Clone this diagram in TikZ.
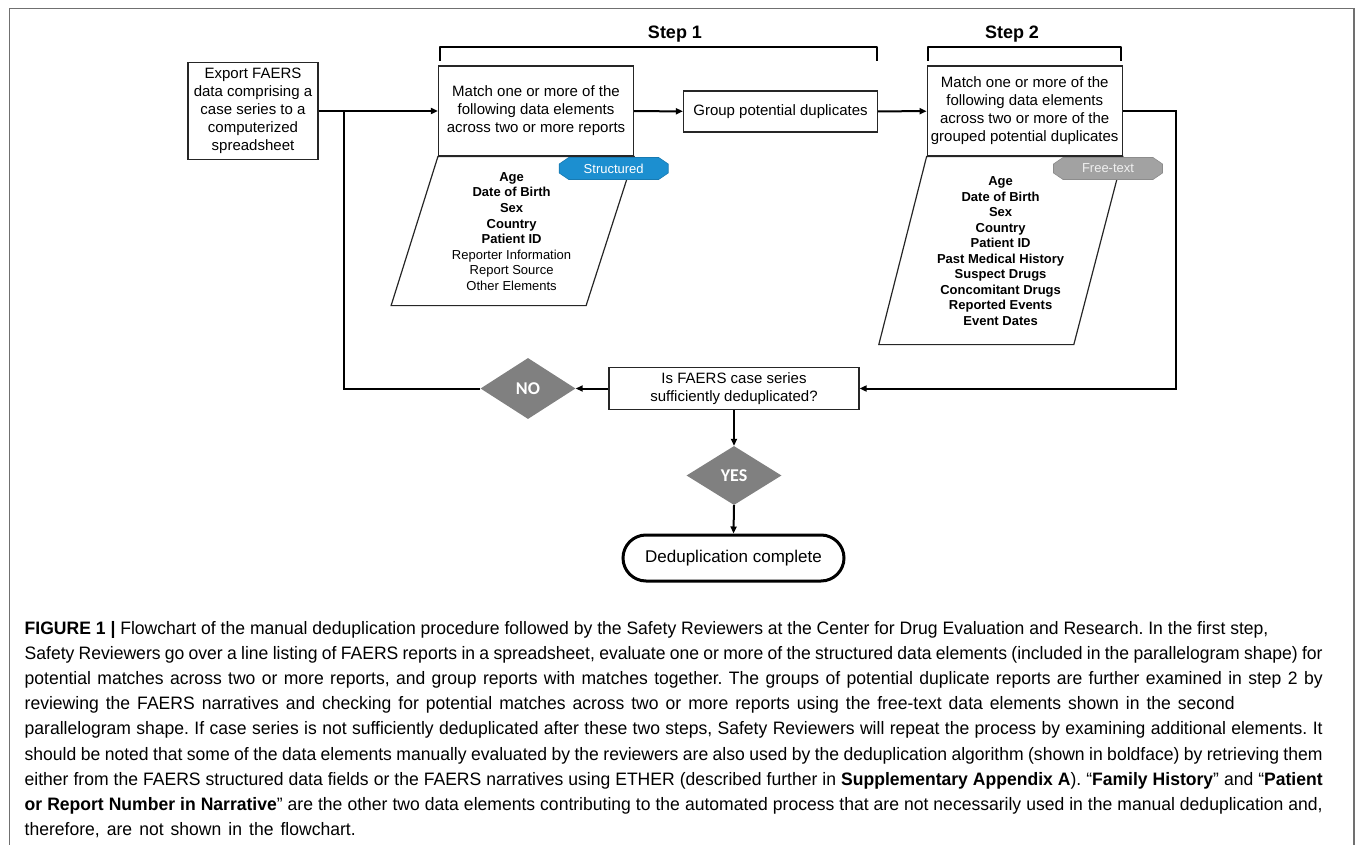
\documentclass[tikz,border=0pt]{standalone}
\usepackage{fontspec}
\setmainfont{Liberation Sans}
\newfontfamily\capfont[FakeStretch=0.975]{Liberation Sans}
\newfontfamily\ansfont{Carlito}
\usepackage{tikz}
\usetikzlibrary{arrows.meta,shapes.geometric,shapes.misc}

\definecolor{structblue}{RGB}{28,143,208}
\definecolor{freegray}{RGB}{162,162,162}
\definecolor{ansgray}{RGB}{128,128,128}
\definecolor{framegray}{RGB}{112,112,112}

\frenchspacing

\tikzset{
	box/.style={draw=black!85, line width=1.2pt, inner sep=0pt, align=center,
		font=\fontsize{15}{18}\selectfont},
	flow/.style={line width=2pt, -{Triangle[length=7pt,width=6pt]}},
	link/.style={line width=2pt},
	answer/.style={diamond, fill=ansgray, inner sep=0pt, text=white,
		minimum width=95pt, font=\ansfont\bfseries\fontsize{18}{18}\selectfont},
	tag/.style n args={2}{rectangle, inner sep=0pt, minimum width=110pt,
		minimum height=23pt, font=\fontsize{13}{13}\selectfont,
		path picture={
			\filldraw[fill=#1, draw=#2, line width=0.6pt]
				([xshift=10pt,yshift=-0.5pt]path picture bounding box.north west)
				-- ([xshift=-10pt,yshift=-0.5pt]path picture bounding box.north east)
				-- ([xshift=-0.5pt,yshift=-7pt]path picture bounding box.north east)
				-- ([xshift=-0.5pt,yshift=7pt]path picture bounding box.south east)
				-- ([xshift=-10pt,yshift=0.5pt]path picture bounding box.south east)
				-- ([xshift=10pt,yshift=0.5pt]path picture bounding box.south west)
				-- ([xshift=0.5pt,yshift=7pt]path picture bounding box.south west)
				-- ([xshift=0.5pt,yshift=-7pt]path picture bounding box.north west)
				-- cycle;
		}},
	elems/.style={align=center, inner sep=0pt, font=\fontsize{13}{15.6}\selectfont},
	bracket/.style={line width=2.2pt, line join=round},
	capline/.style={anchor=base west, inner sep=0pt,
		font=\capfont\fontsize{18}{18}\selectfont},
}

\begin{document}
\begin{tikzpicture}[x=1pt, y=-1pt]

\useasboundingbox (0,0) rectangle (1355,845);

% frame
\draw[framegray, line width=1.5pt] (9.3,845) -- (9.3,8.3) -- (1354,8.3) -- (1354,845);

% ------------------------------------------------------
% step brackets

\draw[bracket] (440,61) -- (440,47) -- (877,47) -- (877,61);
\draw[bracket] (928,61) -- (928,47) -- (1121,47) -- (1121,61);

\node[font=\bfseries\fontsize{18}{18}\selectfont] (step1) at (675,34.5) {Step 1};
\node[font=\bfseries\fontsize{18}{18}\selectfont] (step2) at (1012,34.5) {Step 2};

% ------------------------------------------------------
% boxes

\node[box, minimum width=130pt, minimum height=97pt] (export) at (253,111)
	{Export FAERS\\data comprising a\\case series to a\\computerized\\spreadsheet};

\node[box, minimum width=195pt, minimum height=90pt] (match1) at (536,111)
	{Match one or more of the\\following data elements\\across two or more reports};

\node[box, minimum width=194pt, minimum height=41pt] (group) at (780.5,111.5)
	{Group potential duplicates};

\node[box, minimum width=195pt, minimum height=90pt] (match2) at (1024.7,111)
	{Match one or more of the\\following data elements\\across two or more of the\\grouped potential duplicates};

\node[box, minimum width=250pt, minimum height=42pt] (check) at (734,388.5)
	{Is FAERS case series\\sufficiently deduplicated?};

\node[answer, minimum height=61pt] (no) at (528,388.5) {NO};

\node[answer, minimum height=59pt] (yes) at (734,475.5) {YES};

\node[rounded rectangle, draw, line width=3pt, minimum width=221pt, minimum height=46pt,
	inner sep=0pt, font=\fontsize{17}{17}\selectfont] (done) at (733.5,558) {Deduplication complete};

% ------------------------------------------------------
% parallelograms

\draw[draw=black!85, line width=1.2pt] (match1.south west) -- (match1.south east)
	-- ++(-48,149) -- ++(-195,0) -- cycle;

\draw[draw=black!85, line width=1.2pt] (match2.south west) -- (match2.south east)
	-- ++(-49,188) -- ++(-195,0) -- cycle;

\node[elems] (list1) at (511.6,231.5)
	{\bfseries Age\\\bfseries Date of Birth\\\bfseries Sex\\\bfseries Country\\\bfseries Patient ID\\
	Reporter Information\\Report Source\\Other Elements};

\node[elems, font=\bfseries\fontsize{13}{15.5}\selectfont] (list2) at (1000.6,251)
	{Age\\Date of Birth\\Sex\\Country\\Patient ID\\Past Medical History\\Suspect Drugs\\
	Concomitant Drugs\\Reported Events\\Event Dates};

\node[tag={structblue}{structblue!85!black}, text=white] (structured) at (613.7,168.5) {Structured};
\node[tag={freegray}{black!45}, text=white!94!black] (freetext) at (1108,168.5) {Free-text};

% ------------------------------------------------------
% connectors

\coordinate (split) at (344,111);
\coordinate (back) at (1176,111);

\draw[flow] (export) -- (match1);
\draw[flow] (match1) -- (group);
\draw[flow] (group) -- (match2);
\draw[flow] (match2.east) -- (back) |- (check.east);
\draw[flow] (check.west) -- (no.east);
\draw[link] (no.west) -| (split);
\draw[flow] (check.south) -- (yes.north);
\draw[flow] (yes.south) -- (done.north);

% ------------------------------------------------------
% caption

\node[capline] (cap1) at (24.5,634)
	{\bfseries FIGURE 1 |\mdseries\ Flowchart of the manual deduplication procedure followed by the Safety Reviewers at the Center for Drug Evaluation and Research. In the first step,};
\node[capline] (cap2) at (24.5,659.2)
	{\makebox[1298pt][s]{Safety Reviewers go over a line listing of FAERS reports in a spreadsheet, evaluate one or more of the structured data elements (included in the parallelogram shape) for}};
\node[capline] (cap3) at (24.5,684.4)
	{\makebox[1298pt][s]{potential matches across two or more reports, and group reports with matches together. The groups of potential duplicate reports are further examined in step 2 by}};
\node[capline] (cap4) at (24.5,709.6)
	{\makebox[1210pt][s]{reviewing the FAERS narratives and checking for potential matches across two or more reports using the free-text data elements shown in the second}};
\node[capline] (cap5) at (24.5,734.8)
	{\makebox[1298pt][s]{parallelogram shape. If case series is not sufficiently deduplicated after these two steps, Safety Reviewers will repeat the process by examining additional elements. It}};
\node[capline] (cap6) at (24.5,760)
	{\makebox[1298pt][s]{should be noted that some of the data elements manually evaluated by the reviewers are also used by the deduplication algorithm (shown in boldface) by retrieving them}};
\node[capline] (cap7) at (24.5,785.2)
	{\makebox[1298pt][s]{either from the FAERS structured data fields or the FAERS narratives using ETHER (described further in \textbf{Supplementary Appendix A}). “\textbf{Family History}” and “\textbf{Patient}}};
\node[capline] (cap8) at (24.5,810.4)
	{\makebox[1298pt][s]{\textbf{or Report Number in Narrative}” are the other two data elements contributing to the automated process that are not necessarily used in the manual deduplication and,}};
\node[capline] (cap9) at (24.5,835.6)
	{\makebox[331pt][s]{therefore, are not shown in the flowchart.}};

\end{tikzpicture}
\end{document}
